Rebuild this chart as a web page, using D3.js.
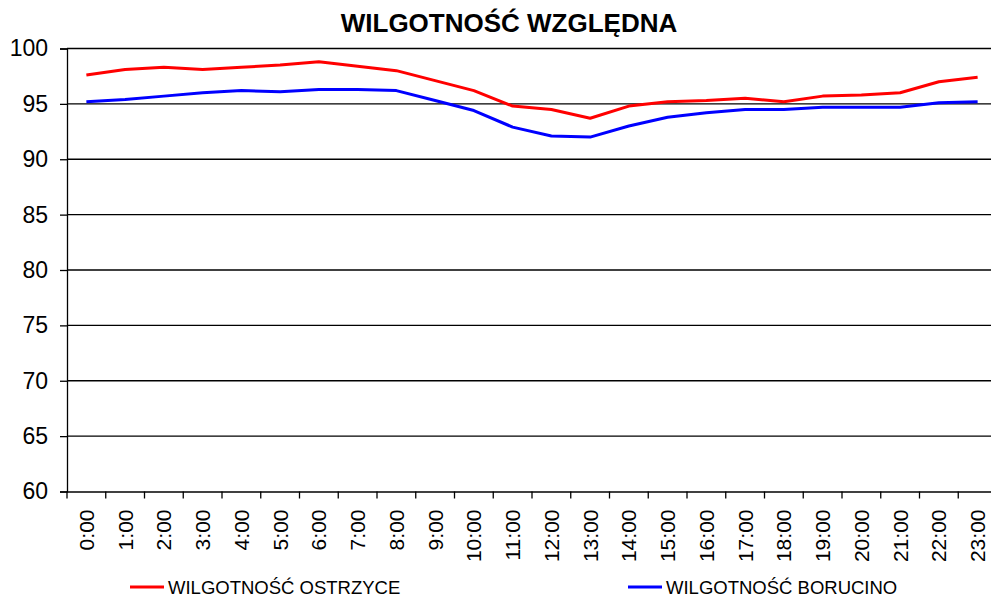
<!DOCTYPE html>
<html>
<head>
<meta charset="utf-8">
<script src="https://cdn.jsdelivr.net/npm/d3@7"></script>
<style>
  html, body { margin: 0; padding: 0; background: #fff; }
  svg { display: block; font-family: Arial, "Liberation Sans", sans-serif; }
</style>
</head>
<body>
<svg id="chart" width="991" height="598"></svg>
<script>
const title = "WILGOTNOŚĆ WZGLĘDNA";
const hours = ["0:00","1:00","2:00","3:00","4:00","5:00","6:00","7:00","8:00","9:00","10:00","11:00",
               "12:00","13:00","14:00","15:00","16:00","17:00","18:00","19:00","20:00","21:00","22:00","23:00"];
const ostrzyce = [97.6, 98.1, 98.3, 98.1, 98.3, 98.5, 98.8, 98.4, 98.0, 97.1, 96.2, 94.8,
                  94.5, 93.7, 94.8, 95.2, 95.3, 95.5, 95.2, 95.7, 95.8, 96.0, 97.0, 97.4];
const borucino = [95.2, 95.4, 95.7, 96.0, 96.2, 96.1, 96.3, 96.3, 96.2, 95.3, 94.4, 92.9,
                  92.1, 92.0, 93.0, 93.8, 94.2, 94.5, 94.5, 94.7, 94.7, 94.7, 95.1, 95.2];
const yTicks = [60, 65, 70, 75, 80, 85, 90, 95, 100];
const seriesNames = ["WILGOTNOŚĆ OSTRZYCE", "WILGOTNOŚĆ BORUCINO"];
const seriesColors = ["#ff0000", "#0000ff"];

const svg = d3.select("#chart");
const pLeft = 67, pRight = 997, pTop = 48.5, pBottom = 491.5;

const x = d3.scaleBand().domain(hours).range([pLeft, pRight]).padding(0);
const y = d3.scaleLinear().domain([60, 100]).range([pBottom, pTop]);

// Title
svg.append("text")
  .attr("x", 509).attr("y", 32)
  .attr("text-anchor", "middle")
  .attr("font-size", "26px").attr("font-weight", "bold")
  .text(title);

// Gridlines
svg.append("g").selectAll("line").data(yTicks.filter(d => d > 60)).join("line")
  .attr("x1", pLeft).attr("x2", 991)
  .attr("y1", d => y(d)).attr("y2", d => y(d))
  .attr("stroke", "#000").attr("stroke-width", 1.3);

// Y axis
const yAxis = svg.append("g").attr("transform", `translate(${pLeft},0)`)
  .call(d3.axisLeft(y).tickValues(yTicks).tickSize(7).tickPadding(12).tickFormat(d3.format("d")));
yAxis.selectAll("text").attr("font-size", "23px").attr("fill", "#000").attr("font-family", "Arial, 'Liberation Sans', sans-serif");
yAxis.selectAll("line,path").attr("stroke", "#000").attr("stroke-width", 1.3);

// X axis
const xAxis = svg.append("g").attr("transform", `translate(0,${pBottom})`)
  .call(d3.axisBottom(x).tickSize(0).tickFormat(d => d));
xAxis.select(".domain").attr("stroke", "#000").attr("stroke-width", 1.3);
xAxis.selectAll(".tick text")
  .attr("font-size", "21px").attr("fill", "#000")
  .attr("font-family", "Arial, 'Liberation Sans', sans-serif")
  .attr("text-anchor", "end")
  .attr("transform", "rotate(-90)")
  .attr("x", -18).attr("y", 0).attr("dy", "0.36em");
// category boundary ticks
svg.append("g").selectAll("line").data(hours).join("line")
  .attr("x1", d => x(d)).attr("x2", d => x(d))
  .attr("y1", pBottom).attr("y2", pBottom + 7)
  .attr("stroke", "#000").attr("stroke-width", 1.3);

// Lines
const line = d3.line().x((d, i) => x(hours[i]) + x.bandwidth() / 2).y(d => y(d));
[ostrzyce, borucino].forEach((s, k) => {
  svg.append("path").datum(s)
    .attr("d", line)
    .attr("fill", "none")
    .attr("stroke", seriesColors[k])
    .attr("stroke-width", 3)
    .attr("stroke-linejoin", "round");
});

// Legend
const legendX = [130, 628];
seriesNames.forEach((name, k) => {
  const g = svg.append("g");
  g.append("line")
    .attr("x1", legendX[k]).attr("x2", legendX[k] + 34)
    .attr("y1", 587).attr("y2", 587)
    .attr("stroke", seriesColors[k]).attr("stroke-width", 3);
  g.append("text")
    .attr("x", legendX[k] + 38).attr("y", 593.5)
    .attr("font-size", "18.5px").attr("fill", "#000")
    .text(name);
});
</script>
</body>
</html>
